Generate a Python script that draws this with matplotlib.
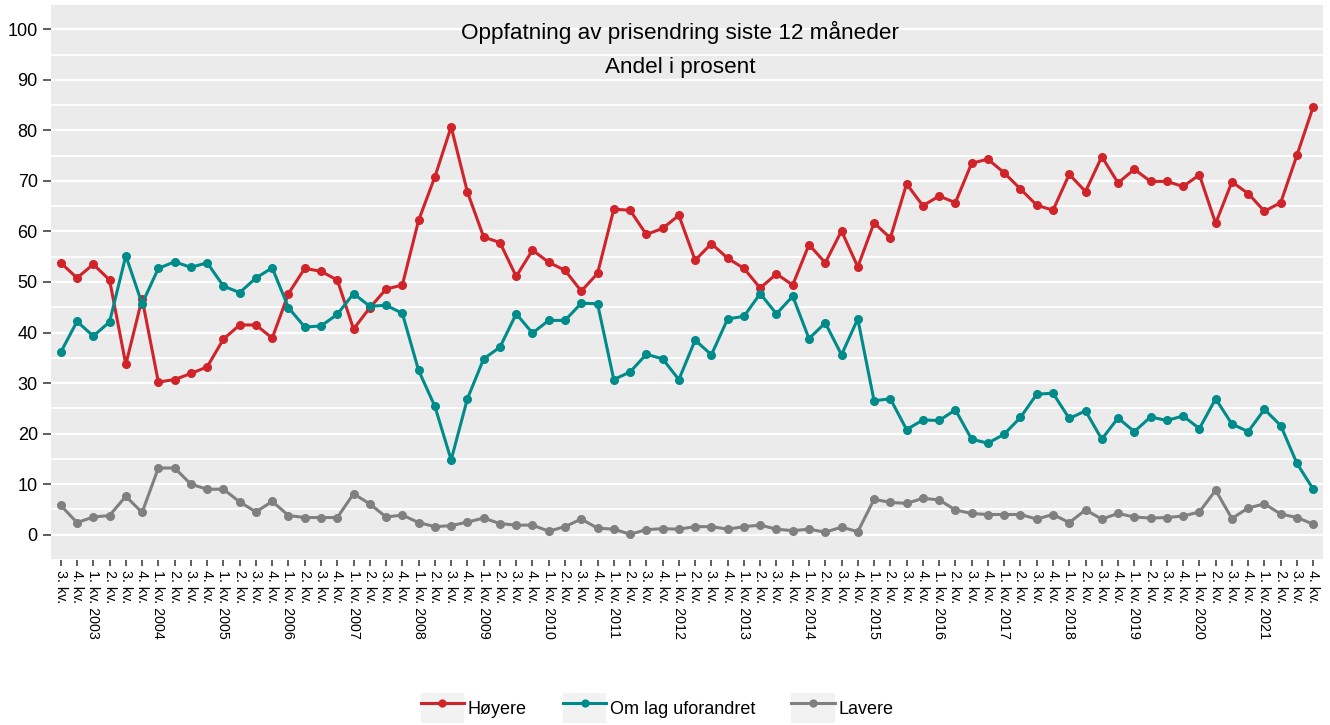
import matplotlib
matplotlib.use("Agg")
import matplotlib.pyplot as plt
from matplotlib.legend_handler import HandlerLine2D
from matplotlib.patches import Rectangle
from matplotlib.ticker import FixedLocator, MultipleLocator

# Quarterly survey, 3. kv. 2002 - 4. kv. 2021
start_year = 2002
start_quarter = 3

hoyere = [53.8, 50.8, 53.5, 50.4, 33.7, 46.7, 30.2, 30.7, 31.9, 33.2,
          38.7, 41.5, 41.5, 38.9, 47.7, 52.7, 52.1, 50.4, 40.7, 44.9,
          48.6, 49.4, 62.2, 70.8, 80.7, 67.8, 58.9, 57.8, 51.1, 56.3,
          53.9, 52.3, 48.2, 51.7, 64.4, 64.2, 59.4, 60.6, 63.2, 54.3,
          57.6, 54.7, 52.7, 48.8, 51.6, 49.4, 57.4, 53.8, 60.1, 53.0,
          61.7, 58.7, 69.4, 65.1, 67.0, 65.7, 73.5, 74.3, 71.6, 68.4,
          65.2, 64.2, 71.3, 67.9, 74.8, 69.6, 72.3, 69.9, 69.9, 68.9,
          71.2, 61.6, 69.8, 67.5, 64.0, 65.7, 75.1, 84.7]

uforandret = [36.1, 42.2, 39.3, 42.1, 55.2, 45.7, 52.7, 54.0, 52.9, 53.8,
              49.2, 47.9, 50.8, 52.8, 44.9, 41.1, 41.3, 43.6, 47.7, 45.2,
              45.4, 43.8, 32.5, 25.4, 14.8, 26.9, 34.8, 37.1, 43.7, 39.9,
              42.4, 42.4, 45.8, 45.7, 30.7, 32.2, 35.7, 34.8, 30.7, 38.5,
              35.6, 42.7, 43.2, 47.7, 43.7, 47.2, 38.8, 41.9, 35.6, 42.7,
              26.5, 26.9, 20.8, 22.7, 22.6, 24.7, 18.9, 18.1, 19.9, 23.2,
              27.8, 28.0, 23.0, 24.5, 18.9, 23.1, 20.4, 23.3, 22.6, 23.5,
              21.0, 26.9, 21.9, 20.4, 24.8, 21.6, 14.1, 9.0]

lavere = [5.8, 2.4, 3.5, 3.8, 7.6, 4.4, 13.2, 13.2, 10.0, 9.0,
          9.0, 6.5, 4.5, 6.6, 3.8, 3.4, 3.4, 3.4, 8.1, 6.1,
          3.5, 3.9, 2.4, 1.6, 1.8, 2.5, 3.3, 2.2, 1.9, 1.9,
          0.7, 1.6, 3.1, 1.3, 1.1, 0.1, 1.0, 1.2, 1.1, 1.6,
          1.6, 1.1, 1.6, 1.9, 1.1, 0.8, 1.1, 0.5, 1.5, 0.6,
          7.0, 6.4, 6.2, 7.2, 6.9, 4.9, 4.2, 4.0, 4.0, 4.0,
          3.1, 4.0, 2.4, 4.9, 3.1, 4.2, 3.5, 3.3, 3.4, 3.7,
          4.5, 8.8, 3.2, 5.3, 6.1, 4.1, 3.4, 2.1]

series_names = ["Høyere", "Om lag uforandret", "Lavere"]
series_colors = ["#D1232A", "#008B8B", "#808080"]

# tick labels: "q. kv." and year appended on first quarter
labels = []
year_pos = []
for i in range(len(hoyere)):
    q = (start_quarter - 1 + i) % 4 + 1
    y = start_year + (start_quarter - 1 + i) // 4
    if q == 1:
        labels.append(f"1. kv. {y}")
        year_pos.append(i)
    else:
        labels.append(f"{q}. kv.")
x = list(range(len(labels)))

plt.rcParams['font.family'] = ['Liberation Sans', 'DejaVu Sans']

fig = plt.figure(figsize=(13.3, 7.25), dpi=100)
ax = fig.add_axes([51 / 1330, 165 / 725, 1272 / 1330, 556 / 725])
ax.set_facecolor("#EBEBEB")

for vals, name, col in zip([hoyere, uforandret, lavere], series_names, series_colors):
    ax.plot(x, vals, color=col, lw=2.2, marker="o", ms=5.5, label=name, zorder=3)

ax.set_xlim(-0.6, len(x) - 1 + 0.6)
ax.set_ylim(-5, 105)

ax.set_xticks(x)
ax.set_xticklabels(labels, rotation=-90, va="top", ha="center", fontsize=10.3)
ax.xaxis.set_minor_locator(FixedLocator(year_pos))
ax.yaxis.set_major_locator(MultipleLocator(10))
ax.yaxis.set_minor_locator(MultipleLocator(5))
ax.tick_params(axis="y", which="major", labelsize=13, length=5.5, width=1.1,
               color="#333333", pad=4, labelcolor="black")
ax.tick_params(axis="x", which="major", length=4.5, width=1.1, color="#333333",
               pad=3, labelcolor="black")
ax.tick_params(which="minor", length=0)

ax.grid(which="major", axis="y", color="white", lw=1.6)
ax.grid(which="minor", axis="y", color="white", lw=1.3)
ax.grid(which="minor", axis="x", color="white", lw=1.6)
ax.set_axisbelow(True)
for s in ax.spines.values():
    s.set_visible(False)

fig.text(680 / 1330, 1 - 32 / 725, "Oppfatning av prisendring siste 12 måneder",
         ha="center", va="center", fontsize=16.2)
fig.text(680 / 1330, 1 - 67 / 725, "Andel i prosent",
         ha="center", va="center", fontsize=16.2)


class KeyHandler(HandlerLine2D):
    def create_artists(self, legend, orig_handle, xdescent, ydescent, width, height, fontsize, trans):
        bg = Rectangle((-xdescent, -ydescent), width, height, facecolor="#F2F2F2",
                       edgecolor="none", transform=trans)
        arts = super().create_artists(legend, orig_handle, xdescent, ydescent,
                                      width, height, fontsize, trans)
        return [bg] + list(arts)


handles, names = ax.get_legend_handles_labels()
fig.legend(handles, names, loc="center", bbox_to_anchor=(657 / 1330, 17 / 725),
           ncol=3, frameon=False, fontsize=13, handlelength=2.4, handleheight=2.2,
           handletextpad=0.2, columnspacing=2.0, markerscale=0.9,
           handler_map={h: KeyHandler(numpoints=1) for h in handles})

fig.savefig("out.png", dpi=100)
